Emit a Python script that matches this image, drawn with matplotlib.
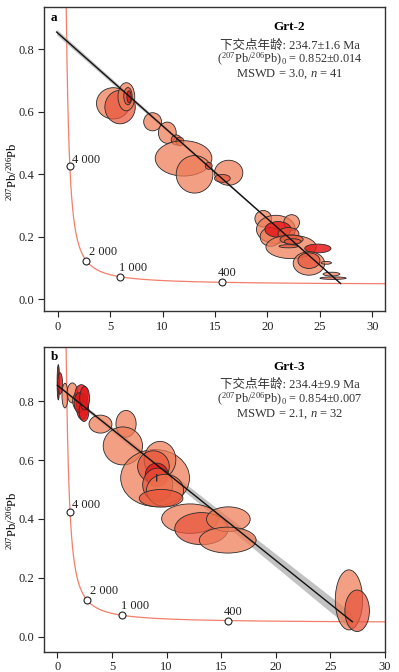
import numpy as np
import matplotlib
matplotlib.use("Agg")
import matplotlib.pyplot as plt
from matplotlib.patches import Ellipse

plt.rcParams['font.family'] = ['Liberation Serif', 'Noto Sans CJK SC', 'DejaVu Sans']
plt.rcParams['mathtext.fontset'] = 'custom'
plt.rcParams['mathtext.rm'] = 'Liberation Serif'
plt.rcParams['mathtext.it'] = 'Liberation Serif:italic'
plt.rcParams['mathtext.bf'] = 'Liberation Serif:bold'

# ---------------- data ----------------
L238 = 1.55125e-10
L235 = 9.8485e-10
U_RATIO = 137.88
concordia_label_ages = [4000, 2000, 1000, 400]   # Ma
concordia_label_text = ['4 000', '2 000', '1 000', '400']

# panel a (Grt-2)
a_name = 'Grt-2'
a_age, a_age_err = 234.7, 1.6
a_y0, a_y0_err = 0.852, 0.014
a_mswd, a_n = 3.0, 41
a_x = [5.3, 5.95, 6.55, 6.7, 6.8, 9.05, 10.45, 11.3, 11.65, 12.0, 13.05, 14.4, 16.3, 15.7,
       19.6, 20.8, 22.3, 20.3, 21.0, 22.0, 22.25, 22.3, 22.4, 22.0, 24.8, 23.95, 23.95,
       25.6, 26.1, 26.25]
a_y = [0.627, 0.615, 0.648, 0.65, 0.648, 0.568, 0.533, 0.51, 0.505, 0.451, 0.40, 0.427, 0.405, 0.387,
       0.258, 0.224, 0.246, 0.20, 0.224, 0.21, 0.168, 0.192, 0.185, 0.170, 0.163, 0.115, 0.124,
       0.117, 0.081, 0.068]
a_w = [3.2, 2.9, 1.6, 0.8, 0.4, 1.7, 1.7, 0.95, 0.75, 5.4, 3.5, 0.65, 2.7, 1.5,
       1.6, 3.7, 1.5, 2.0, 2.5, 2.0, 4.8, 2.2, 1.6, 1.8, 2.5, 3.0, 2.1,
       1.0, 1.6, 2.5]
a_h = [0.10, 0.107, 0.09, 0.055, 0.038, 0.058, 0.068, 0.032, 0.028, 0.113, 0.12, 0.022, 0.08, 0.025,
       0.053, 0.09, 0.05, 0.06, 0.05, 0.04, 0.075, 0.028, 0.018, 0.010, 0.028, 0.075, 0.05,
       0.009, 0.012, 0.008]
a_kind = [0, 1, 0, 1, 2, 0, 0, 1, 1, 0, 0, 1, 0, 1,
          0, 0, 0, 0, 2, 1, 0, 1, 1, 1, 2, 0, 1,
          0, 0, 1]
a_env = (0.009, -0.0003)   # envelope half-width: c0 + c1*x

# panel b (Grt-3)
b_name = 'Grt-3'
b_age, b_age_err = 234.4, 9.9
b_y0, b_y0_err = 0.854, 0.007
b_mswd, b_n = 2.1, 32
b_x = [0.09, 0.25, 0.7, 1.37, 1.9, 2.2, 2.29, 1.99, 2.44, 2.5, 3.95, 6.29, 6.0, 8.95, 9.4, 8.8,
       9.1, 9.19, 9.86, 9.5, 12.15, 13.2, 15.66, 15.6, 26.7, 27.45, 9.1]
b_y = [0.864, 0.86, 0.819, 0.828, 0.80, 0.822, 0.782, 0.794, 0.765, 0.81, 0.722, 0.723, 0.648, 0.539,
       0.601, 0.578, 0.55, 0.516, 0.497, 0.47, 0.401, 0.367, 0.399, 0.328, 0.125, 0.088, 0.54]
b_w = [0.22, 0.45, 0.55, 0.95, 1.0, 1.2, 1.1, 0.9, 0.9, 0.9, 2.1, 1.85, 3.6, 6.3, 2.9, 2.9,
       2.1, 2.75, 3.4, 4.0, 5.2, 4.9, 4.0, 5.2, 2.5, 2.25, 0.05]
b_h = [0.12, 0.073, 0.084, 0.068, 0.06, 0.068, 0.09, 0.068, 0.068, 0.08, 0.061, 0.091, 0.129, 0.193,
       0.125, 0.107, 0.079, 0.113, 0.109, 0.06, 0.10, 0.109, 0.084, 0.088, 0.204, 0.141, 0.025]
b_kind = [3, 2, 0, 0, 0, 2, 2, 2, 2, 2, 0, 0, 0, 0, 0, 1,
          2, 1, 0, 1, 0, 1, 0, 0, 0, 1, 3]
b_env = (0.004, 0.0009)

label_offsets = [(1.5, 4.5), (2.0, 6.5), (-0.7, 6.5), (-3.0, 6.5)]  # points

# ---------------- helpers ----------------
FILL = {0: ('#ee7a55', 0.72), 1: ('#e8553a', 0.72), 2: ('#e41a1c', 0.85), 3: ('#7a1a10', 0.9)}


def concordia(t_ma):
    t = np.asarray(t_ma) * 1e6
    e8 = np.exp(L238 * t) - 1
    e5 = np.exp(L235 * t) - 1
    return 1 / e8, e5 / e8 / U_RATIO


def draw_panel(ax, letter, name, age, age_err, y0, y0_err, mswd, n, xs, ys, ws, hs, kinds,
               env, xlim, ylim, line_x0):
    # concordia
    t = np.linspace(150, 5600, 3000)
    cx, cy = concordia(t)
    ax.plot(cx, cy, color='#f27f6b', lw=0.9, zorder=2)

    # regression line + envelope
    xl, yl = concordia(age)
    slope = (yl - y0) / xl
    lx = np.linspace(line_x0, xl, 200)
    ly = y0 + slope * lx
    hw = env[0] + env[1] * lx
    ax.fill_between(lx, ly - hw, ly + hw, color='#9a9a9a', alpha=0.6, lw=0, zorder=3)

    # ellipses
    for x, y, w, h, k in zip(xs, ys, ws, hs, kinds):
        fc, al = FILL[k]
        e = Ellipse((x, y), w, h, facecolor=matplotlib.colors.to_rgba(fc, al),
                    edgecolor='#2a2a2a', lw=0.6, zorder=4)
        ax.add_patch(e)

    ax.plot(lx, ly, color='#111111', lw=1.0, zorder=5)

    # concordia age markers
    mx, my = concordia(concordia_label_ages)
    ax.plot(mx, my, 'o', ms=5, mfc='white', mec='#222222', mew=0.8, zorder=6)
    for xx, yy, txt, off in zip(mx, my, concordia_label_text, label_offsets):
        ax.annotate(txt, (xx, yy), xytext=off, textcoords='offset points',
                    ha='left', va='center', fontsize=9, color='#222222', zorder=6)

    ax.set_xlim(*xlim)
    ax.set_ylim(*ylim)
    ax.set_xticks([0, 5, 10, 15, 20, 25, 30])
    ax.set_yticks([0.0, 0.2, 0.4, 0.6, 0.8])
    ax.set_yticklabels(['0.0', '0.2', '0.4', '0.6', '0.8'])
    ax.tick_params(direction='out', length=4, width=0.8, labelsize=9, colors='#222222', pad=3)
    for s in ax.spines.values():
        s.set_linewidth(1.0)
        s.set_color('#333333')

    ax.text(0.02, 0.985, letter, transform=ax.transAxes, fontsize=9.5, fontweight='bold',
            ha='left', va='top')
    tx = 0.72
    ax.text(tx, 0.935, name, transform=ax.transAxes, fontsize=9.5, fontweight='bold',
            ha='center', va='center')
    ax.text(tx, 0.874, '下交点年龄: %.1f±%.1f Ma' % (age, age_err), transform=ax.transAxes,
            fontsize=9, ha='center', va='center', color='#333333')
    ax.text(tx, 0.828, r'($^{207}$Pb/$^{206}$Pb)$_0$ = %.3f±%.3f' % (y0, y0_err),
            transform=ax.transAxes, fontsize=8.8, ha='center', va='center', color='#333333')
    ax.text(tx, 0.778, r'MSWD = %.1f, $n$ = %d' % (mswd, n), transform=ax.transAxes,
            fontsize=9, ha='center', va='center', color='#333333')


fig = plt.figure(figsize=(3.99, 6.72), dpi=100)
ax_a = fig.add_axes([0.1103, 0.5372, 0.8546, 0.4524])
ax_b = fig.add_axes([0.1103, 0.0302, 0.8546, 0.4539])

draw_panel(ax_a, 'a', a_name, a_age, a_age_err, a_y0, a_y0_err, a_mswd, a_n,
           a_x, a_y, a_w, a_h, a_kind, a_env, (-1.3, 31.2), (-0.037, 0.935), -0.1)
draw_panel(ax_b, 'b', b_name, b_age, b_age_err, b_y0, b_y0_err, b_mswd, b_n,
           b_x, b_y, b_w, b_h, b_kind, b_env, (-1.22, 30.0), (-0.051, 0.985), 0.0)

for ax, ypos in ((ax_a, 0.457), (ax_b, 0.43)):
    ax.set_ylabel(r'$^{207}$Pb/$^{206}$Pb', fontsize=9, labelpad=4)
    ax.yaxis.set_label_coords(-0.072, ypos)

fig.savefig('out.png', dpi=100)
